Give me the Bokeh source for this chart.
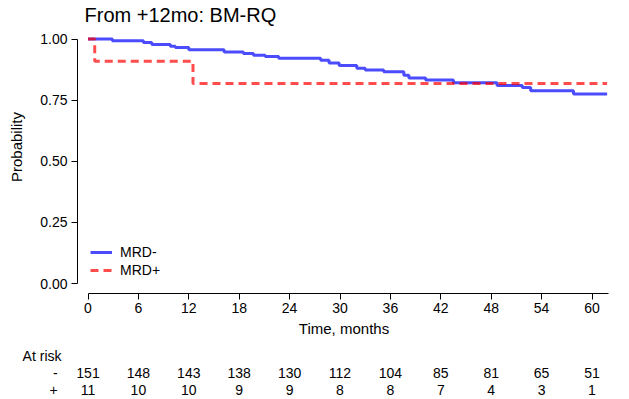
from bokeh.plotting import figure
from bokeh.models import Range1d, FixedTicker, NumeralTickFormatter, Legend, LegendItem, LinearAxis
from bokeh.layouts import column
from bokeh.embed import file_html
from bokeh.resources import INLINE
from bokeh.core.properties import value

# ---------------- data ----------------
title_text = "From +12mo: BM-RQ"
neg_label = "MRD-"
pos_label = "MRD+"
neg_time = [0, 2.9, 6.6, 7.6, 9.8, 10.4, 12.0, 16.2, 18.5, 19.7, 21.1, 22.7, 27.7, 28.7, 29.9,
            32.0, 33.0, 35.2, 37.6, 38.2, 40.2, 43.5, 48.7, 51.7, 52.7, 57.8, 61.8]
neg_surv = [1.0, 0.993, 0.986, 0.977, 0.970, 0.965, 0.956, 0.947, 0.941, 0.934, 0.928, 0.921, 0.913,
            0.902, 0.892, 0.880, 0.873, 0.866, 0.852, 0.841, 0.832, 0.821, 0.810, 0.802, 0.788,
            0.775, 0.775]
pos_time = [0, 0.8, 12.5, 61.8]
pos_surv = [1.0, 0.909, 0.818, 0.818]
risk_times = [0, 6, 12, 18, 24, 30, 36, 42, 48, 54, 60]
risk_neg = [151, 148, 143, 138, 130, 112, 104, 85, 81, 65, 51]
risk_pos = [11, 10, 10, 9, 9, 8, 8, 7, 4, 3, 1]
risk_title = "At risk"
risk_rows = ["-", "+"]
x_ticks = [0, 6, 12, 18, 24, 30, 36, 42, 48, 54, 60]
y_ticks = [0.0, 0.25, 0.5, 0.75, 1.0]
x_max = 62

# ---------------- layout constants ----------------
FONT = "Liberation Sans"
PX_X = 8.4      # pixels per month
X0 = 87.5       # pixel of t=0
PX_Y = 244.5    # pixels per unit probability
Y1 = 38.5       # pixel of p=1
FRAME_L, FRAME_R, FRAME_B = 77, 610, 293
H1 = 342
W = 629
H2 = 399 - H1
ROW_Y = [13, 30, 47]  # local pixel rows in the table strip

xr = Range1d((FRAME_L - X0) / PX_X, (FRAME_R - X0) / PX_X)
yr = Range1d(1 - (FRAME_B - Y1) / PX_Y, 1 + Y1 / PX_Y)

p = figure(width=W, height=H1, x_range=xr, y_range=yr, output_backend="svg",
           toolbar_location=None, min_border_left=FRAME_L, min_border_right=W - FRAME_R,
           min_border_top=0, min_border_bottom=H1 - FRAME_B)
p.outline_line_color = None
p.grid.visible = False
p.background_fill_color = "white"
p.border_fill_color = "white"

r_neg = p.step(neg_time, neg_surv, mode="after", line_color="blue", line_alpha=0.7, line_width=3)
r_pos = p.step(pos_time, pos_surv, mode="after", line_color="red", line_alpha=0.7, line_width=3,
               line_dash="8 5")

p.text(x=[(84 - X0) / PX_X], y=[1 + (Y1 - 14) / PX_Y], text=[title_text],
       text_font=value(FONT), text_font_size="20px", text_color="black",
       text_align="left", text_baseline="middle")

for ax in (p.xaxis[0], p.yaxis[0]):
    ax.axis_line_color = "black"
    ax.major_tick_line_color = "black"
    ax.minor_tick_line_color = None
    ax.major_tick_out = 6
    ax.major_tick_in = 0
    ax.major_label_text_font = FONT
    ax.major_label_text_font_size = "14px"
    ax.major_label_text_color = "black"
    ax.axis_label_text_font = FONT
    ax.axis_label_text_font_size = "15px"
    ax.axis_label_text_font_style = "normal"
    ax.axis_label_text_color = "black"

p.xaxis.ticker = FixedTicker(ticks=x_ticks)
p.xaxis.bounds = (0, x_max)
p.xaxis.axis_label = "Time, months"
p.xaxis.major_label_standoff = 3
p.xaxis.axis_label_standoff = 4

p.yaxis.ticker = FixedTicker(ticks=y_ticks)
p.yaxis.bounds = (0, 1)
p.yaxis.formatter = NumeralTickFormatter(format="0.00")
p.yaxis.axis_label = "Probability"
p.yaxis.major_label_standoff = 4
p.yaxis.axis_label_standoff = 12

legend = Legend(items=[LegendItem(label=neg_label, renderers=[r_neg]),
                       LegendItem(label=pos_label, renderers=[r_pos])],
                location=(13, 14), glyph_width=22, glyph_height=18, spacing=0, padding=0,
                margin=0, label_standoff=8, label_text_font=FONT, label_text_font_size="14px",
                label_text_color="black", border_line_color=None, background_fill_alpha=0)
p.add_layout(legend)

# ---------------- at-risk table ----------------
q = figure(width=W, height=H2, x_range=xr, y_range=Range1d(H2, 0), output_backend="svg",
           toolbar_location=None, x_axis_type=None, y_axis_type=None,
           min_border_left=FRAME_L, min_border_right=W - FRAME_R, min_border_top=0,
           min_border_bottom=0)
q.outline_line_color = None
q.grid.visible = False

txt = dict(text_font=value(FONT), text_font_size="14px", text_color="black",
           text_baseline="middle", text_align="center")
q.text(x=risk_times, y=[ROW_Y[1]] * len(risk_times), text=[str(v) for v in risk_neg], **txt)
q.text(x=risk_times, y=[ROW_Y[2]] * len(risk_times), text=[str(v) for v in risk_pos], **txt)

row_axis = LinearAxis(ticker=FixedTicker(ticks=ROW_Y),
                      major_label_overrides={ROW_Y[0]: risk_title,
                                             ROW_Y[1]: risk_rows[0] + "\u00a0",
                                             ROW_Y[2]: risk_rows[1] + "\u00a0"},
                      axis_line_color=None, major_tick_line_color=None,
                      minor_tick_line_color=None, major_label_standoff=10,
                      major_label_text_font=FONT, major_label_text_font_size="14px",
                      major_label_text_color="black")
q.add_layout(row_axis, "left")

layout = column(p, q)
open("out.html", "w").write(file_html(layout, INLINE))
